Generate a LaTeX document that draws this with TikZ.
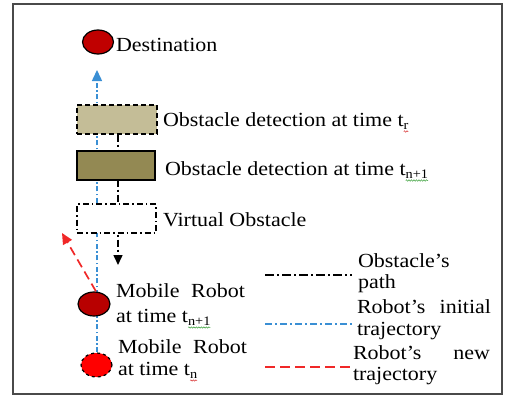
\documentclass[tikz,border=0pt]{standalone}
\usepackage{fontspec}
\setmainfont{Liberation Serif}[FakeStretch=1.1]
\usetikzlibrary{arrows.meta,shapes.geometric,decorations.pathmorphing,backgrounds}

\definecolor{destred}{HTML}{C00000}
\definecolor{robotdark}{HTML}{B80000}
\definecolor{robotred}{HTML}{FF0000}
\definecolor{khakilight}{HTML}{C4BD97}
\definecolor{olivedark}{HTML}{938953}
\definecolor{trajblue}{HTML}{3A8FD4}
\definecolor{newred}{HTML}{F02828}
\definecolor{framegray}{HTML}{4A4A4A}
\definecolor{spellred}{HTML}{D83030}
\definecolor{spellgreen}{HTML}{3AA03A}

\tikzset{
  lbl/.style={anchor=base west, inner sep=0pt, outer sep=0pt,
              font=\fontsize{20}{22}\selectfont},
  subtxt/.style={anchor=base west, inner sep=0pt, outer sep=0pt,
                 font=\fontsize{13}{14}\selectfont},
  squig/.style={draw=#1, line width=0.5pt, decorate,
                decoration={snake, amplitude=0.7pt, segment length=2.5pt}},
  blob/.style={ellipse, draw=black, line width=1.2pt, inner sep=0pt,
               minimum width=31pt, minimum height=24pt},
  obsbox/.style={rectangle, draw=black, inner sep=0pt,
                 minimum width=79pt, minimum height=29pt},
  bluepath/.style={draw=trajblue, line width=1.5pt,
                   dash pattern=on 5pt off 2.5pt on 1.5pt off 2.5pt},
  obspath/.style={draw=black, line width=1.5pt,
                  dash pattern=on 7pt off 3pt on 2pt off 3pt},
  redpath/.style={draw=newred, line width=1.7pt,
                  dash pattern=on 9pt off 5pt},
}

\begin{document}
\begin{tikzpicture}[x=1pt, y=-1pt]
\useasboundingbox (0,0) rectangle (505,399);

% outer frame
\draw[framegray, line width=1.5pt] (13,4) rectangle (502,394);

% destination and robots
\node[blob, fill=destred] (dest) at (98,42) {};
\node[blob, fill=robotdark, minimum width=32pt] (robB) at (94,304) {};
\node[blob, fill=robotred, dashed] (robA) at (96.5,365) {};

% obstacle boxes
\node[obsbox, fill=khakilight, line width=1.2pt, dash pattern=on 5pt off 3pt,
      minimum width=80pt] (box1) at (117,119.5) {};
\node[obsbox, fill=olivedark, line width=1.5pt, minimum width=78pt] (box2) at (116,165.5) {};
\node[obsbox, fill=white, line width=1.2pt,
      dash pattern=on 6pt off 3pt on 1.5pt off 3pt] (box3) at (116.5,218.5) {};

% free ends of the paths
\coordinate (goal) at (97,70);
\coordinate (obsend) at (118,265);
\coordinate (newdir) at (62,233);

\begin{pgfonlayer}{background}
  % robot's initial trajectory
  \draw[bluepath, -{Triangle[width=10pt,length=11pt]}] (robA.north -| goal) -- (goal);
  % obstacle's path
  \draw[obspath, -{Triangle[width=9pt,length=10pt]}] (box1.south -| obsend) -- (obsend);
\end{pgfonlayer}
% robot's new trajectory
\draw[redpath, -{Triangle[width=10pt,length=11pt]}] ([xshift=2pt]robB.north) -- (newdir);

% labels
\node[lbl] (tDest) at (116,51) {Destination};

\node[lbl] (tObs1) at (163,126) {Obstacle detection at time t};
\node[subtxt] (sObs1) at ([yshift=-3pt]tObs1.base east) {r};
\draw[squig=spellred] ([yshift=-2.5pt]sObs1.base west) -- ([yshift=-2.5pt]sObs1.base east);

\node[lbl] (tObs2) at (165,175) {Obstacle detection at time t};
\node[subtxt] (sObs2) at ([yshift=-3pt]tObs2.base east) {n+1};
\draw[squig=spellgreen] ([yshift=-2.5pt]sObs2.base west) -- ([yshift=-2.5pt]sObs2.base east);

\node[lbl] (tVirt) at (163,226) {Virtual Obstacle};

\node[lbl] (tRobB1) at (116,297) {\makebox[129pt][s]{Mobile Robot}};
\node[lbl] (tRobB2) at (116,322) {at time t};
\node[subtxt] (sRobB) at ([yshift=-3pt]tRobB2.base east) {n+1};
\draw[squig=spellgreen] ([yshift=-2.5pt]sRobB.base west) -- ([yshift=-2.5pt]sRobB.base east);

\node[lbl] (tRobA1) at (118,353) {\makebox[129pt][s]{Mobile Robot}};
\node[lbl] (tRobA2) at (118,375) {at time t};
\node[subtxt] (sRobA) at ([yshift=-3pt]tRobA2.base east) {n};
\draw[squig=spellred] ([yshift=-2.5pt]sRobA.base west) -- ([yshift=-2.5pt]sRobA.base east);

% legend
\coordinate (lgObsA) at (265,275);
\coordinate (lgObsB) at (352,275);
\coordinate (lgBlueA) at (265,324);
\coordinate (lgBlueB) at (352,324);
\coordinate (lgRedA) at (265,367);
\coordinate (lgRedB) at (352,367);
\draw[obspath, dash pattern=on 9pt off 3pt on 2pt off 3pt] (lgObsA) -- (lgObsB);
\draw[bluepath, dash pattern=on 7pt off 3pt on 2pt off 3pt] (lgBlueA) -- (lgBlueB);
\draw[redpath, dash pattern=on 10pt off 5pt] (lgRedA) -- (lgRedB);

\node[lbl] (lgObs1) at (358,267) {Obstacle’s};
\node[lbl] (lgObs2) at (358,288) {path};
\node[lbl] (lgBlue1) at (357,313) {\makebox[134pt][s]{Robot’s initial}};
\node[lbl] (lgBlue2) at (357,335) {trajectory};
\node[lbl] (lgRed1) at (353,359) {\makebox[137pt][s]{Robot’s new}};
\node[lbl] (lgRed2) at (353,380) {trajectory};
\end{tikzpicture}
\end{document}
